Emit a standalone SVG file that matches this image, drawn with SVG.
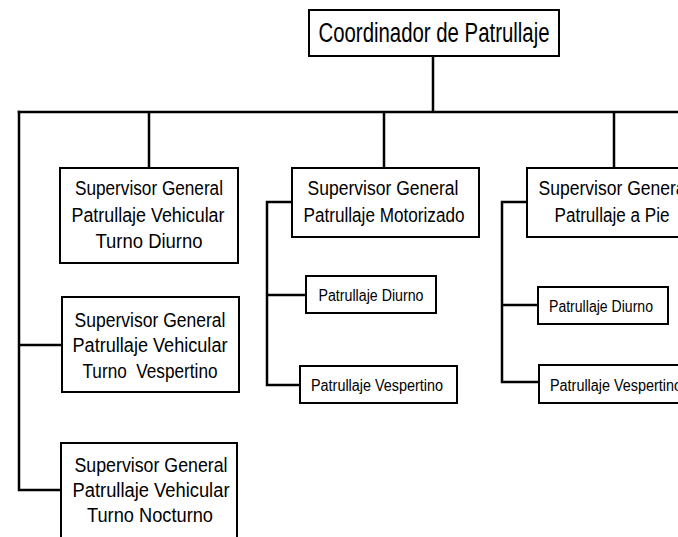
<svg xmlns="http://www.w3.org/2000/svg" width="678" height="537" viewBox="0 0 678 537">
<style>
.box{fill:#fff;stroke:#000;stroke-width:2}
.ln{fill:none;stroke:#000;stroke-width:2.5;stroke-linecap:square}
text{font-family:"Liberation Sans",Arial,sans-serif;fill:#000;text-anchor:middle}
.t{font-size:27px}
.m{font-size:20px}
.s{font-size:16px}
</style>
<rect width="678" height="537" fill="#fff"/>
<g id="connectors">
<path class="ln" d="M433,56 V112 M19,112 H680 M149,112 V168 M384,112 V168 M614,112 V168"/>
<path class="ln" d="M19,112 V490 M19,345 H62 M19,490 H61"/>
<path class="ln" d="M267,202 V385 M267,202 H292 M267,295 H306 M267,385 H300"/>
<path class="ln" d="M502,202 V382 M502,202 H527 M502,305 H538 M502,382 H539"/>
</g>
<g id="coordinador">
<rect class="box" x="309" y="10" width="250" height="46"/>
<text class="t" x="434" y="42" textLength="231" lengthAdjust="spacingAndGlyphs">Coordinador de Patrullaje</text>
</g>
<g id="vehicular-diurno">
<rect class="box" x="60" y="168" width="178" height="95"/>
<text class="m" x="149" y="195" textLength="148" lengthAdjust="spacingAndGlyphs">Supervisor General</text>
<text class="m" x="148" y="222" textLength="153" lengthAdjust="spacingAndGlyphs">Patrullaje Vehicular</text>
<text class="m" x="149" y="248" textLength="107" lengthAdjust="spacingAndGlyphs">Turno Diurno</text>
</g>
<g id="vehicular-vespertino">
<rect class="box" x="62" y="297" width="177" height="95"/>
<text class="m" x="150" y="327" textLength="151" lengthAdjust="spacingAndGlyphs">Supervisor General</text>
<text class="m" x="150" y="352" textLength="155" lengthAdjust="spacingAndGlyphs">Patrullaje Vehicular</text>
<text class="m" x="150" y="378" textLength="135" lengthAdjust="spacingAndGlyphs" xml:space="preserve">Turno  Vespertino</text>
</g>
<g id="vehicular-nocturno">
<rect class="box" x="61" y="443" width="176" height="105"/>
<text class="m" x="151" y="472" textLength="153" lengthAdjust="spacingAndGlyphs">Supervisor General</text>
<text class="m" x="151" y="497" textLength="157" lengthAdjust="spacingAndGlyphs">Patrullaje Vehicular</text>
<text class="m" x="150" y="522" textLength="126" lengthAdjust="spacingAndGlyphs">Turno Nocturno</text>
</g>
<g id="motorizado">
<rect class="box" x="292" y="168" width="187" height="69"/>
<text class="m" x="383" y="195" textLength="151" lengthAdjust="spacingAndGlyphs">Supervisor General</text>
<text class="m" x="384" y="222" textLength="161" lengthAdjust="spacingAndGlyphs">Patrullaje Motorizado</text>
</g>
<g id="motorizado-diurno">
<rect class="box" x="306" y="276" width="130" height="37"/>
<text class="s" x="371" y="301" textLength="105" lengthAdjust="spacingAndGlyphs">Patrullaje Diurno</text>
</g>
<g id="motorizado-vespertino">
<rect class="box" x="300" y="366" width="157" height="37"/>
<text class="s" x="377" y="391" textLength="132" lengthAdjust="spacingAndGlyphs">Patrullaje Vespertino</text>
</g>
<g id="a-pie">
<rect class="box" x="527" y="168" width="176" height="69"/>
<text class="m" x="614" y="195" textLength="151" lengthAdjust="spacingAndGlyphs">Supervisor General</text>
<text class="m" x="612" y="222" textLength="115" lengthAdjust="spacingAndGlyphs">Patrullaje a Pie</text>
</g>
<g id="pie-diurno">
<rect class="box" x="538" y="287" width="130" height="37"/>
<text class="s" x="601" y="312" textLength="104" lengthAdjust="spacingAndGlyphs">Patrullaje Diurno</text>
</g>
<g id="pie-vespertino">
<rect class="box" x="539" y="365" width="157" height="38"/>
<text class="s" x="616" y="391" textLength="132" lengthAdjust="spacingAndGlyphs">Patrullaje Vespertino</text>
</g>
</svg>
